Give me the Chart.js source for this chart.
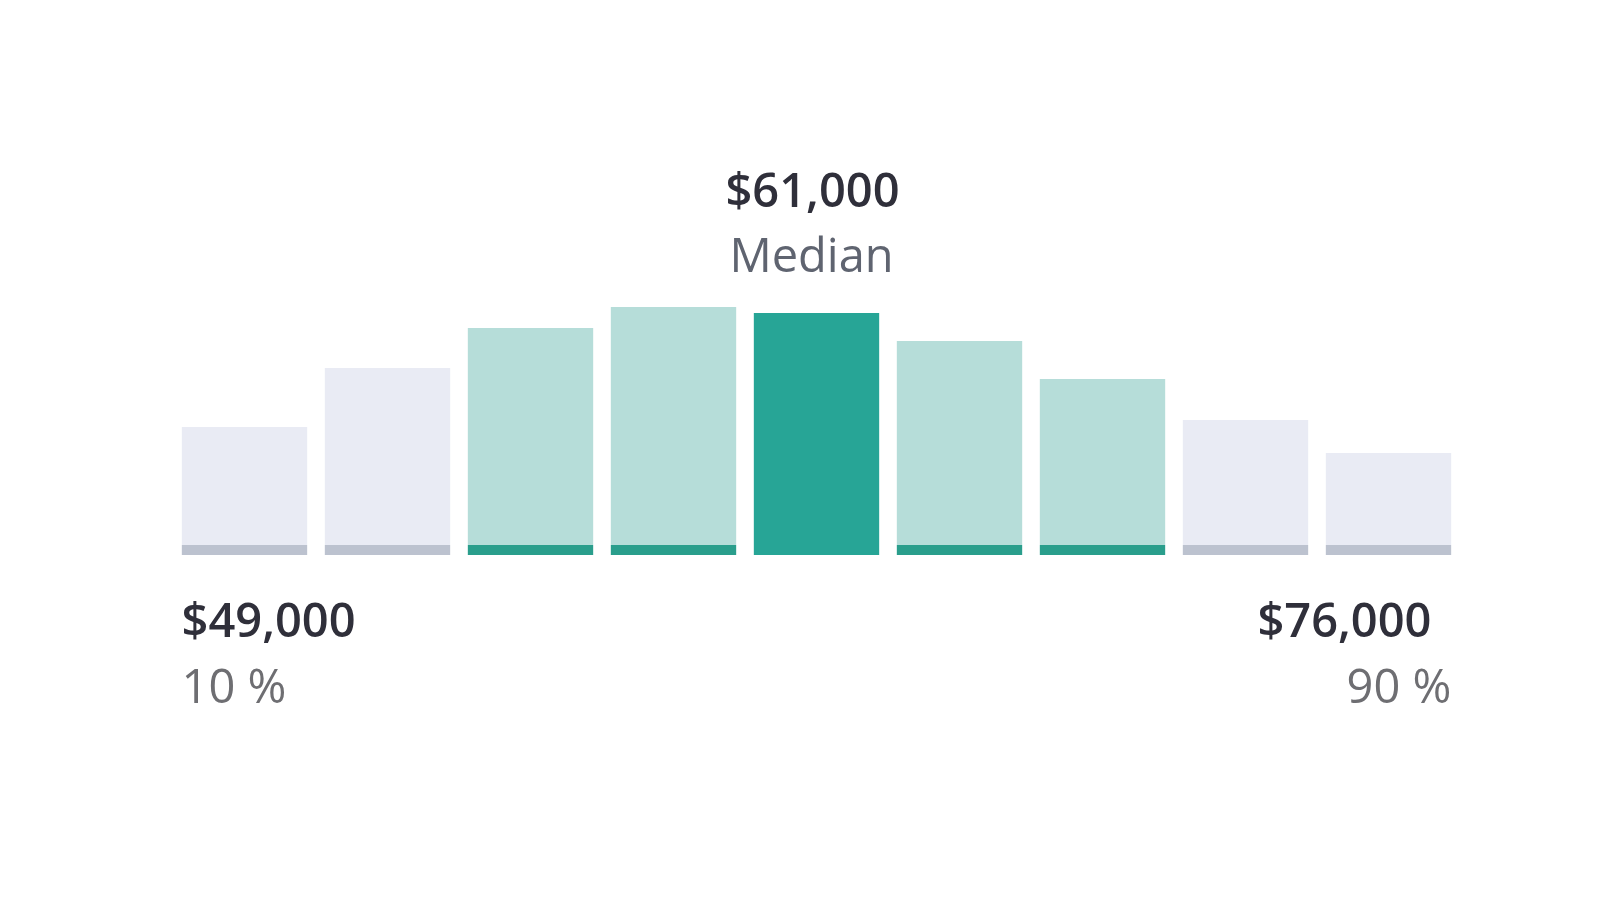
<!DOCTYPE html>
<html>
<head>
<meta charset="utf-8">
<script src="https://cdn.jsdelivr.net/npm/chart.js@4"></script>
<style>
    html, body { margin: 0; padding: 0; background: #fff; }
    #wrap { width: 1600px; height: 899px; }
</style>
</head>
<body>
<div id="wrap"><canvas id="salaryChart" width="1600" height="899"></canvas></div>
<script>
// salary distribution buckets (relative bar heights)
const buckets = ['b1', 'b2', 'b3', 'b4', 'b5', 'b6', 'b7', 'b8', 'b9'];
const shares = [128, 187, 227, 248, 242, 214, 176, 135, 102];
const medianIndex = 4;
const innerRange = [2, 6]; // buckets between the quartile-ish marks

const medianLabel = ['$61,000', 'Median'];
const lowLabel = ['$49,000', '10 %'];
const highLabel = ['$76,000', '90 %'];

function barColor(i) {
    if (i === medianIndex) return '#27a596';
    if (i >= innerRange[0] && i <= innerRange[1]) return '#b6ddd9';
    return '#e9ebf4';
}
function stripColor(i) {
    if (i === medianIndex) return '#27a596';
    if (i >= innerRange[0] && i <= innerRange[1]) return '#2a9e8c';
    return '#bcc2cf';
}

// text labels above median and under the ends
const labelPlugin = {
    id: 'labels',
    afterDraw(chart) {
        const ctx = chart.ctx;
        const meta = chart.getDatasetMeta(0);
        const mid = meta.data[medianIndex];
        const first = meta.data[0];
        const last = meta.data[buckets.length - 1];
        const big = '600 47px "Open Sans"';
        const small = '400 47px "Open Sans"';
        ctx.save();
        ctx.textBaseline = 'middle';

        // slightly left of the bar centre, like the original
        ctx.textAlign = 'center';
        ctx.fillStyle = '#2f2f3a';
        ctx.font = big;
        ctx.fillText(medianLabel[0], mid.x - 4, 194);
        ctx.fillStyle = '#5f6470';
        ctx.font = small;
        ctx.fillText(medianLabel[1], mid.x - 5, 259);

        const left = first.x - first.width / 2;
        ctx.textAlign = 'left';
        ctx.fillStyle = '#2f2f3a';
        ctx.font = big;
        ctx.fillText(lowLabel[0], left, 624);
        ctx.fillStyle = '#6e6e72';
        ctx.font = small;
        ctx.fillText(lowLabel[1], left, 690);

        const right = last.x + last.width / 2;
        ctx.textAlign = 'right';
        ctx.fillStyle = '#2f2f3a';
        ctx.font = big;
        ctx.fillText(highLabel[0], right - 20, 624);
        ctx.fillStyle = '#6e6e72';
        ctx.font = small;
        ctx.fillText(highLabel[1], right, 690);
        ctx.restore();
    }
};

const salaryChart = new Chart(document.getElementById('salaryChart'), {
    type: 'bar',
    data: {
        labels: buckets,
        datasets: [{
            data: shares,
            backgroundColor: buckets.map((b, i) => barColor(i)),
            borderColor: buckets.map((b, i) => stripColor(i)),
            borderWidth: { top: 0, left: 0, right: 0, bottom: 10 },
            borderSkipped: false,
            barPercentage: 0.88,
            categoryPercentage: 1
        }]
    },
    options: {
        responsive: false,
        animation: false,
        layout: {
            padding: { left: 173, right: 140, top: 255, bottom: 344 }
        },
        plugins: {
            legend: { display: false },
            tooltip: { enabled: false }
        },
        scales: {
            x: { display: false },
            y: { display: false, min: 0, max: 300 }
        }
    },
    plugins: [labelPlugin]
});
</script>
</body>
</html>
